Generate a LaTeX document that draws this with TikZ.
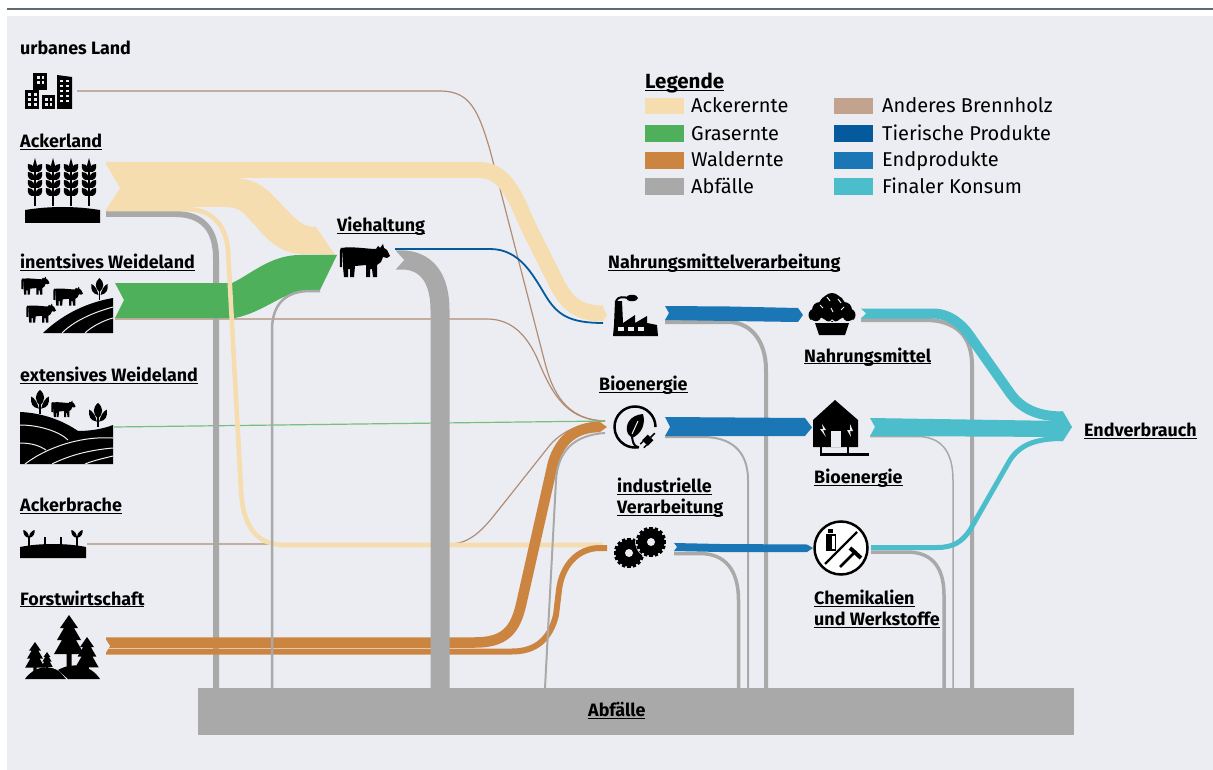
\documentclass[tikz,border=0pt]{standalone}
\usepackage{fontspec}
\setmainfont{Fira Sans}
\definecolor{pagebg}{HTML}{ECEDF2}
\definecolor{rulegray}{HTML}{5F6B73}
\definecolor{ackerc}{HTML}{F5DDB0}
\definecolor{grasc}{HTML}{4EB05A}
\definecolor{waldc}{HTML}{CC8540}
\definecolor{wastec}{HTML}{A9A9A9}
\definecolor{holzc}{HTML}{C2A48E}
\definecolor{holzd}{HTML}{B08D75}
\definecolor{tierc}{HTML}{045A9C}
\definecolor{endc}{HTML}{1B76B6}
\definecolor{konsumc}{HTML}{4BBDCB}
\newcommand{\ltext}[1]{\setbox0=\hbox{#1}\rlap{\rule[-2.4pt]{\wd0}{1.3pt}}\box0}
\tikzset{
  lbl/.style={anchor=base west,inner sep=0pt,font=\fontsize{17.9}{21}\selectfont\bfseries},
  lbltwo/.style={lbl,anchor=west,align=left},
  legtext/.style={anchor=base west,inner sep=0pt,font=\fontsize{20}{21}\selectfont},
  swatch/.style={minimum width=39pt,minimum height=16.5pt,inner sep=0pt,anchor=west},
  waste/.style={draw=wastec},
  wood/.style={draw=holzd,line width=1.2pt},
  cutout/.style={draw=pagebg,line width=1pt},
  cowpic/.pic={
    \fill (2,5) .. controls (10,3) and (28,6) .. (36,6) -- (38,3) -- (40,5) -- (43,1) -- (44,5) -- (47,7)
      -- (50,13) -- (47,15) -- (43,14) -- (41,19) -- (37,22) -- (37,34) -- (33,34) -- (32,26) -- (30,26)
      -- (30,34) -- (26,34) -- (26,22) -- (15,23) -- (14,34) -- (10,34) -- (10,26) -- (8,26) -- (8,34)
      -- (4,34) -- (3,24) -- cycle;
    \draw[line width=2pt] (2,5) -- (0.8,8) -- (0.8,24);
  },
  plantpic/.pic={
    \fill (0,0) .. controls (5,4) and (5,10) .. (0,14) .. controls (-5,10) and (-5,4) .. (0,0);
    \fill (1,17) .. controls (7,16) and (9,12) .. (8,6) .. controls (5,7) and (2,12) .. (1,17);
    \fill (-1,17) .. controls (-7,16) and (-9,12) .. (-8,6) .. controls (-5,7) and (-2,12) .. (-1,17);
    \draw[line width=1.6pt] (0,12) -- (0,22);
  },
  earpic/.pic={
    \fill (0,0) -- (2.4,9) -- (-2.4,9) -- cycle;
    \draw[line width=1.5pt] (0,4) -- (0,48);
    \foreach \g in {14,22,30,38}{
      \fill (0,\g) .. controls (-6,\g+1) and (-8,\g-3) .. (-7,\g-8) .. controls (-2,\g-8) and (0,\g-4) .. (0,\g);
      \fill (0,\g) .. controls (6,\g+1) and (8,\g-3) .. (7,\g-8) .. controls (2,\g-8) and (0,\g-4) .. (0,\g);
    }
  },
  treepic/.pic={
    \fill (0,0) -- (9,13) -- (5,13) -- (12,25) -- (7,25) -- (15,39) -- (2.5,39) -- (2.5,52) -- (-2.5,52) -- (-2.5,39)
      -- (-15,39) -- (-7,25) -- (-12,25) -- (-5,13) -- (-9,13) -- cycle;
  },
}
\begin{document}
\begin{tikzpicture}[x=1pt,y=-1pt]
\useasboundingbox (0,0) rectangle (1213,770);
\fill[pagebg] (7,16) rectangle (1213,770);
\draw[rulegray,line width=1.8pt] (7,9) -- (1213,9);

\coordinate (cityOut) at (77,91);
\coordinate (ackerOut) at (106,170);
\coordinate (ackerThin) at (106,209);
\coordinate (ackerWaste) at (106,214);
\coordinate (weideOut) at (115,319);
\coordinate (extOut) at (114,427);
\coordinate (bracheOut) at (87,544);
\coordinate (forstOut) at (106,642.5);
\coordinate (forstLow) at (106,651.5);
\coordinate (cowMeat) at (395,249);
\coordinate (cowWaste) at (396,260);
\coordinate (cowIn) at (320,291);
\coordinate (foodIn) at (603,313.5);
\coordinate (foodThin) at (603,323);
\coordinate (foodWaste) at (665,322);
\coordinate (bioIn) at (605,421);
\coordinate (bioWood) at (600,427);
\coordinate (bioBack) at (605,433);
\coordinate (bioWaste) at (665,437);
\coordinate (indIn) at (603,545);
\coordinate (indWood) at (600,548);
\coordinate (indWaste) at (674,553.5);
\coordinate (muffinOut) at (861,313.5);
\coordinate (muffinWaste) at (861,320);
\coordinate (houseWaste) at (870,436.5);
\coordinate (toolsOut) at (871,547.5);
\coordinate (toolsWaste) at (871,552);
\coordinate (endA) at (1063,416.5);
\coordinate (endC) at (1063,438.5);
\coordinate (binA) at (216,688);
\coordinate (binB) at (272,688);
\coordinate (binC) at (440,688);
\coordinate (binD) at (545,688);
\coordinate (binE) at (738.5,688);
\coordinate (binF) at (748,688);
\coordinate (binG) at (766,688);
\coordinate (binH) at (944,688);
\coordinate (binI) at (953,688);
\coordinate (binJ) at (972,688);

\draw[wood] (cityOut) -- (440,91) .. controls (470,91) and (478,110) .. (490,150) -- (545,363) .. controls (552,390) and (565,420) .. (bioIn);
\draw[wood] (weideOut) -- (487,319) .. controls (515,319) and (530,340) .. (540,365) .. controls (555,400) and (570,420) .. (bioIn);
\draw[wood] (bracheOut) -- (450,544) .. controls (475,544) and (490,520) .. (504,503) -- (550,445) .. controls (565,428) and (585,423) .. (bioIn);
\draw[grasc!75!pagebg,line width=1.2pt] (extOut) -- (bioIn);

\draw[waste,line width=6pt] (ackerWaste) -- (175,214) .. controls (203,214) and (216,230) .. (216,258) -- (binA);
\draw[ackerc,line width=16pt] (ackerOut) -- (480,170) .. controls (508,170) and (518,205) .. (530,230) -- (556,282) .. controls (565,300) and (575,313.5) .. (foodIn);
\fill[ackerc] (602,306) -- (607,315) -- (602,322) -- cycle;
\fill[ackerc] (106,178) -- (233,178) .. controls (265,178) and (275,200) .. (290,213) .. controls (298,222) and (305,227) .. (316,227)
  -- (335,255) -- (303,254) .. controls (275,254) and (262,232) .. (250,220) .. controls (243,212) and (238,207) .. (225,207) -- (106,207) -- cycle;
\fill[grasc] (115,283) -- (232,283) .. controls (250,275) and (270,255) .. (300,255) -- (337,255) -- (320,290) -- (310,290)
  .. controls (285,290) and (265,312) .. (235,318) -- (115,318) -- (124,300) -- cycle;
\draw[ackerc,line width=4.6pt] (ackerThin) -- (185,209) .. controls (215,209) and (226,228) .. (228,250) -- (241,490) .. controls (243,525) and (255,545) .. (285,545) -- (indIn);
\fill[pagebg] (104,161) -- (120,188) -- (105,211) -- cycle;

\draw[waldc,line width=10.5pt] (forstOut) -- (475,642.5) .. controls (505,642.5) and (515,630) .. (521,605) -- (553,463) .. controls (560,440) and (575,427) .. (bioWood);
\fill[waldc] (600,422) -- (607,427) -- (600,432) -- cycle;
\draw[waldc,line width=6pt] (forstLow) -- (512,651.5) .. controls (535,651.5) and (550,640) .. (556,615) -- (559,590) .. controls (562,565) and (578,548) .. (indWood) -- (607,548);
\fill[pagebg] (104,636.5) -- (110,646) -- (104,655.5) -- cycle;

\draw[waste,line width=2.5pt] (cowIn) -- (310,291) .. controls (285,291) and (272,305) .. (272,330) -- (binB);
\draw[waste,line width=19pt] (cowWaste) -- (405,260) .. controls (428,262) and (440,280) .. (440,310) -- (binC);
\fill[pagebg] (395,250) -- (404,260) -- (395,270) -- cycle;
\draw[tierc,line width=1.8pt] (cowMeat) -- (490,249) .. controls (520,249) and (533,275) .. (547,298) .. controls (558,315) and (570,323) .. (foodThin);
\draw[waste,line width=2pt] (bioBack) .. controls (575,435) and (558,450) .. (556,480) -- (binD);

\draw[waste,line width=4pt] (foodWaste) -- (728,322) .. controls (750,322) and (766,340) .. (766,370) -- (binG);
\draw[waste,line width=2pt] (bioWaste) -- (703,437) .. controls (730,437) and (748,450) .. (748,480) -- (binF);
\draw[waste,line width=3.5pt] (indWaste) -- (700,553.5) .. controls (725,553.5) and (738.5,570) .. (738.5,600) -- (binE);
\draw[waste,line width=4pt] (muffinWaste) -- (925,320) .. controls (955,320) and (972,335) .. (972,365) -- (binJ);
\draw[waste,line width=1.5pt] (houseWaste) -- (917,436.5) .. controls (940,436.5) and (953,450) .. (953,480) -- (binI);
\draw[waste,line width=3.5pt] (toolsWaste) -- (907,552) .. controls (930,552) and (944,565) .. (944,595) -- (binH);

\fill[endc] (665,306) -- (730,306.5) -- (798,308) -- (803,315) -- (798,322) -- (730,321) -- (665,320) -- (669,313) -- cycle;
\fill[endc] (665,417) -- (805,418) -- (812,427.5) -- (805,436) -- (665,436) -- (670,427) -- cycle;
\fill[endc] (674,543) -- (720,544) -- (807,544.5) -- (813,548) -- (807,552) -- (720,552) -- (674,551) -- (677,547) -- cycle;

\draw[konsumc,line width=10pt] (muffinOut) -- (933,313.5) .. controls (950,313.5) and (963,325) .. (972,339) -- (1010,393) .. controls (1020,407) and (1035,416.5) .. (endA);
\fill[pagebg] (860,308) -- (866,313.5) -- (860,319) -- cycle;
\fill[konsumc] (870,418) -- (1063,421) -- (1072,427) -- (1063,437) -- (870,436) -- (875,427) -- cycle;
\draw[konsumc,line width=5pt] (toolsOut) -- (937,547.5) .. controls (953,547.5) and (962,542) .. (970,530) -- (1010,460) .. controls (1020,445) and (1035,438.5) .. (endC);
\fill[konsumc] (1060,411.5) -- (1063,411.5) -- (1072,427) -- (1063,441) -- (1060,441) -- cycle;

\fill[wastec] (198,688) rectangle (1074,735);
\node[lbl] (wasteLbl) at (588,716.5) {\ltext{Abfälle}};

% city
\fill (25,90) rectangle (39,109);
\fill (33,73) rectangle (47,90);
\fill (42,95) rectangle (55,109);
\fill (57,75) -- (72,77) -- (72,109) -- (57,109) -- cycle;
\foreach \u in {27.5,33.5}{\foreach \v in {93,98,103}{\fill[pagebg] (\u,\v) rectangle +(3,3);}}
\foreach \u in {37,41.5}{\foreach \v in {76.5,81}{\fill[pagebg] (\u,\v) rectangle +(2.6,2.6);}}
\foreach \u in {45,49.5}{\foreach \v in {98,103}{\fill[pagebg] (\u,\v) rectangle +(2.6,2.6);}}
\foreach \u in {60,66}{\foreach \v in {80,85,90,95,100}{\fill[pagebg] (\u,\v) rectangle +(2.6,2.4);}}
% wheat
\foreach \u in {35,53,71,89}{\pic at (\u,158) {earpic};}
\fill (25,210) .. controls (50,206) and (75,206) .. (100,210) -- (100,223) -- (25,223) -- cycle;
% intensive pasture
\pic[scale=.55] at (22,276) {cowpic};
\pic[scale=.58] at (54,286) {cowpic};
\pic[scale=.58] at (27,303) {cowpic};
\pic at (99.5,278) {plantpic};
\fill (43,333) .. controls (65,312) and (90,302) .. (113,298) -- (113,333) -- cycle;
\draw[cutout] (62,333) .. controls (75,320) and (95,312) .. (113,307);
\draw[cutout] (85,333) .. controls (92,326) and (105,320) .. (113,318);
% cow
\pic at (340,243) {cowpic};
% extensive pasture
\pic[scale=1.1] at (40,390) {plantpic};
\pic[scale=1.1] at (98,403) {plantpic};
\pic[xscale=.47,yscale=.5] at (52,400) {cowpic};
\fill (20,412) .. controls (45,413) and (65,422) .. (78,431) .. controls (90,431) and (103,429) .. (113,425) -- (113,464) -- (20,464) -- cycle;
\draw[cutout] (20,425) .. controls (40,425) and (60,432) .. (68,440);
\draw[cutout] (20,443) .. controls (32,443) and (40,446) .. (46,450);
\draw[cutout] (25,464) .. controls (50,445) and (85,436) .. (113,438);
\draw[cutout] (52,464) .. controls (70,455) and (90,450) .. (113,448);
\draw[cutout] (85,464) .. controls (95,460) and (105,458) .. (113,456);
% fallow
\fill (20,547) .. controls (40,543) and (66,543) .. (86,547) -- (86,558) -- (20,558) -- cycle;
\foreach \u in {29,77}{
  \draw[line width=1.4pt] (\u,536) -- (\u,546);
  \fill (\u,538) .. controls (\u-5,537) and (\u-6,533) .. (\u-5.5,530) .. controls (\u-2,531) and (\u,534) .. (\u,538);
  \fill (\u,538) .. controls (\u+5,537) and (\u+6,533) .. (\u+5.5,530) .. controls (\u+2,531) and (\u,534) .. (\u,538);
}
\foreach \u in {45,61}{\draw[line width=1.4pt] (\u,537) -- (\u,545);}
% forest
\pic at (69,615) {treepic};
\pic[scale=.78] at (87,637) {treepic};
\pic[scale=.66] at (35,642) {treepic};
\pic[scale=.38] at (47,652) {treepic};
\fill (25,679) .. controls (34,666) and (50,664) .. (60,672) -- (66,679) -- cycle;
\fill (58,670) .. controls (72,662) and (90,664) .. (100,679) -- (68,679) -- cycle;
% factory
\fill (614,325) -- (615,301) -- (622,301) -- (623,323) -- (635,315) -- (635,323) -- (647,316) -- (647,323) -- (657,325) -- (658,336) -- (613,336) -- cycle;
\foreach \u in {618,628,638}{\fill[pagebg] (\u,327) rectangle +(6,4);}
\draw[line width=2pt] (616,301) .. controls (618,296) and (624,297) .. (628,298);
\fill (632,298) ellipse[x radius=6,y radius=3.2];
% muffin
\fill (832,308) circle[radius=14];
\fill (832,302) circle[radius=9];
\fill (820,310) circle[radius=8];
\fill (844,310) circle[radius=8];
\fill (815,315) circle[radius=6.5];
\fill (849,315) circle[radius=6.5];
\fill (815,323) -- (849,323) -- (845,335) -- (819,335) -- cycle;
\foreach \u/\v/\w/\z in {827/297/830/301,838/299/841/303,820/305/823/308,844/307/841/310,831/308/833/312}{\draw[cutout] (\u,\v) -- (\w,\z);}
\draw[cutout] (811,320) .. controls (815,323) and (820,323) .. (824,320) .. controls (827,323) and (830,323) .. (832,320) .. controls (835,323) and (838,323) .. (840,320) .. controls (843,323) and (848,323) .. (853,320);
% house
\fill (835,400) -- (858,420) -- (858,447) -- (813,447) -- (813,420) -- cycle;
\fill[pagebg] (831,431) rectangle (841,447);
\fill[pagebg] (822,424) -- (826,430) -- (823,430) -- (826,437) -- (820,429) -- (823,429) -- cycle;
\fill[pagebg] (850,424) -- (853,431) -- (850,431) -- (851,437) -- (847,430) -- (850,430) -- cycle;
\draw[line width=2.5pt] (821,443) -- (821,454.5) -- (869,454.5);
\draw[line width=2.5pt] (848,443) -- (848,454);
\draw[pagebg,line width=1pt] (824,447) -- (824,452) -- (845,452) -- (845,447);
% bioenergy
\draw[line width=2.5pt] (655.5,427) arc[start angle=0,end angle=-280,radius=20.5];
\draw[line width=2pt] (639,447.5) .. controls (633,446) and (633,442) .. (632,437);
\fill (643,414) .. controls (630,415) and (624,425) .. (628,434) -- (632,438) .. controls (641,434) and (646,425) .. (643,414);
\draw[cutout] (638,421) -- (632,434);
\begin{scope}[shift={(647,441)},rotate=-135]
  \fill (-5,-4) rectangle (3,4);
  \draw[line width=1.4pt] (3,-2.5) -- (7,-2.5) (3,2.5) -- (7,2.5);
  \draw[line width=1.6pt] (-5,0) -- (-11,0);
\end{scope}
% gears
\foreach \u/\v in {629/553,651/542}{
  \fill[pagebg] (\u,\v) circle[radius=15.8];
  \fill (\u,\v) circle[radius=13.5];
  \foreach \a in {0,22.5,...,337.5}{\fill[shift={(\u,\v)},rotate=\a] (-1.7,-15.2) rectangle (1.7,-12);}
  \fill[pagebg] (\u,\v) circle[radius=4];
}
% tools
\draw[fill=white,line width=2.5pt] (841,548) circle[radius=26.5];
\draw[line width=2.4pt] (825,564) -- (857,532);
\fill (826,534) rectangle (836,551);
\fill[white] (832,536) rectangle (834.5,549);
\fill (828,529) rectangle (833,533);
\draw[line width=2.6pt] (840,567) -- (856,551);
\draw[line width=4pt] (850,548) -- (861,558);

\node[lbl] (cityLbl) at (20,54.5) {urbanes Land};
\node[lbl] (ackerLbl) at (20,148) {\ltext{Ackerland}};
\node[lbl] (weideLbl) at (20,269) {\ltext{inentsives Weideland}};
\node[lbl] (extLbl) at (20,381.5) {\ltext{extensives Weideland}};
\node[lbl] (bracheLbl) at (20,511.5) {\ltext{Ackerbrache}};
\node[lbl] (forstLbl) at (20,605) {\ltext{Forstwirtschaft}};
\node[lbl] (cowLbl) at (337,232) {\ltext{Viehaltung}};
\node[lbl] (foodLbl) at (608,269) {\ltext{Nahrungsmittelverarbeitung}};
\node[lbl] (muffinLbl) at (804,362) {\ltext{Nahrungsmittel}};
\node[lbl] (bioLbl) at (599,390.5) {\ltext{Bioenergie}};
\node[lbl] (houseLbl) at (814,483.5) {\ltext{Bioenergie}};
\node[lbl] (endLbl) at (1084,436.5) {\ltext{Endverbrauch}};
\node[lbltwo] (indLbl) at (617,498) {\ltext{industrielle}\\\ltext{Verarbeitung}};
\node[lbltwo] (toolsLbl) at (814,609) {\ltext{Chemikalien}\\\ltext{und Werkstoffe}};

\node[lbl,font=\fontsize{20.5}{21}\selectfont\bfseries] (legTitle) at (645,88.5) {\ltext{Legende}};
\node[swatch,fill=ackerc] (legA) at (645,106) {};
\node[swatch,fill=grasc] (legB) at (645,133.5) {};
\node[swatch,fill=waldc] (legC) at (645,160.5) {};
\node[swatch,fill=wastec] (legD) at (645,186.5) {};
\node[swatch,fill=holzc] (legE) at (834,106) {};
\node[swatch,fill=tierc] (legF) at (834,133.5) {};
\node[swatch,fill=endc] (legG) at (834,160.5) {};
\node[swatch,fill=konsumc] (legH) at (834,186.5) {};
\node[legtext] (txtA) at (691,113) {Ackerernte};
\node[legtext] (txtB) at (691,141) {Grasernte};
\node[legtext] (txtC) at (691,167) {Waldernte};
\node[legtext] (txtD) at (691,194) {Abfälle};
\node[legtext] (txtE) at (882,113) {Anderes Brennholz};
\node[legtext] (txtF) at (882,141) {Tierische Produkte};
\node[legtext] (txtG) at (882,167) {Endprodukte};
\node[legtext] (txtH) at (882,194) {Finaler Konsum};
\end{tikzpicture}
\end{document}
